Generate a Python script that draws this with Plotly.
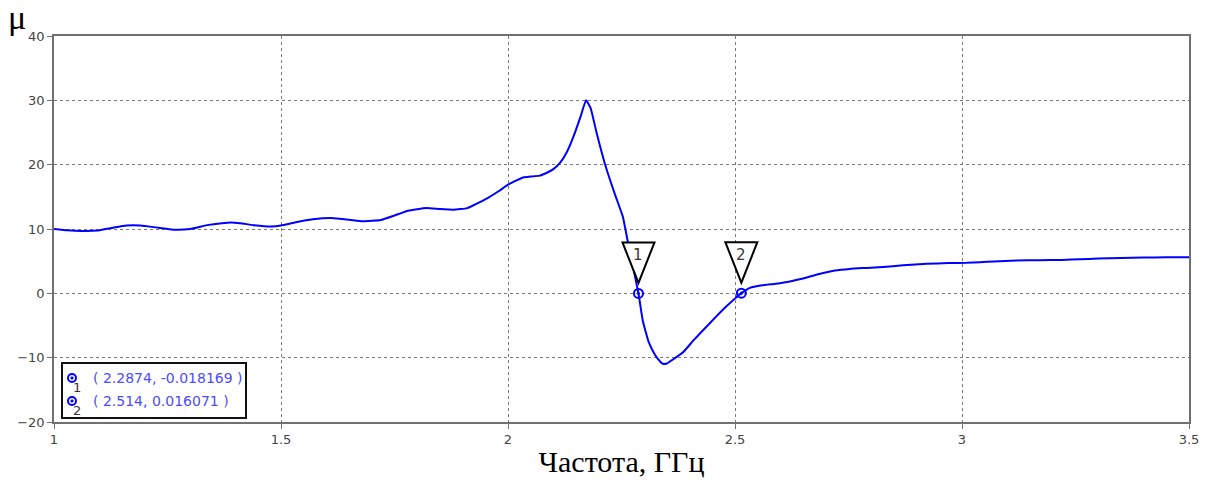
import plotly.graph_objects as go

# ---- data ----
freq = [1.00, 1.03, 1.06, 1.095, 1.13, 1.16, 1.19, 1.23, 1.262, 1.30, 1.337, 1.37, 1.39, 1.41,
        1.44, 1.48, 1.50, 1.53, 1.57, 1.61, 1.65, 1.68, 1.72, 1.75, 1.78, 1.82, 1.85, 1.88,
        1.91, 1.93, 1.955, 1.98, 2.00, 2.02, 2.035, 2.05, 2.07, 2.09, 2.10, 2.115, 2.13,
        2.145, 2.16, 2.172, 2.182, 2.195, 2.214, 2.235, 2.253, 2.264, 2.2874, 2.297, 2.31,
        2.324, 2.335, 2.341, 2.35, 2.363, 2.385, 2.41, 2.445, 2.48, 2.514, 2.533, 2.56,
        2.59, 2.621, 2.66, 2.694, 2.72, 2.753, 2.79, 2.826, 2.87, 2.923, 2.97, 3.01, 3.04,
        3.07, 3.12, 3.17, 3.22, 3.26, 3.30, 3.35, 3.40, 3.45, 3.50]
mu = [10.0, 9.8, 9.7, 9.75, 10.2, 10.55, 10.55, 10.2, 9.9, 10.0, 10.6, 10.9, 11.0, 10.9,
      10.6, 10.4, 10.55, 11.0, 11.5, 11.7, 11.45, 11.2, 11.4, 12.1, 12.85, 13.25, 13.1, 13.0,
      13.25, 13.9, 14.8, 15.9, 16.9, 17.6, 18.05, 18.15, 18.3, 18.9, 19.3, 20.3, 22.0,
      24.5, 27.5, 30.0, 28.8, 25.0, 20.0, 15.5, 11.9, 8.0, -0.018, -4.3, -7.6,
      -9.6, -10.6, -10.95, -10.9, -10.3, -9.2, -7.2, -4.6, -2.1, 0.016, 0.85, 1.25,
      1.5, 1.85, 2.5, 3.15, 3.55, 3.8, 3.95, 4.1, 4.35, 4.6, 4.7, 4.75, 4.85,
      4.95, 5.1, 5.15, 5.2, 5.3, 5.4, 5.5, 5.57, 5.6, 5.6]

marker_ids = ["1", "2"]
marker_x = [2.2874, 2.514]
marker_y = [-0.018169, 0.016071]

x_ticks = [1, 1.5, 2, 2.5, 3, 3.5]
x_tick_text = ["1", "1.5", "2", "2.5", "3", "3.5"]
y_ticks = [-20, -10, 0, 10, 20, 30, 40]

X_RANGE = [1, 3.5]
Y_RANGE = [-20, 40]

# ---- layout geometry ----
W, H = 1210, 490
ML, MR, MT, MB = 54, 21, 36, 68
plot_w = W - ML - MR
plot_h = H - MT - MB
px_per_x = plot_w / (X_RANGE[1] - X_RANGE[0])
px_per_y = plot_h / (Y_RANGE[1] - Y_RANGE[0])

BLUE = "#0000ff"
GRID = "#7a7a7a"
TICKC = "#444444"

fig = go.Figure()
fig.add_trace(go.Scatter(x=freq, y=mu, mode="lines", line_shape="spline",
                         line=dict(color=BLUE, width=2, smoothing=0.4),
                         hoverinfo="skip", showlegend=False))
fig.add_trace(go.Scatter(x=marker_x, y=marker_y, mode="markers",
                         marker=dict(symbol="circle-open-dot", size=9, color=BLUE,
                                     line=dict(width=2, color=BLUE)),
                         showlegend=False))

shapes = []
annotations = []
# marker triangles (computed from marker positions in pixel units)
for mid, mx, my in zip(marker_ids, marker_x, marker_y):
    apex_y = my + 10.5 / px_per_y
    top_y = my + 51 / px_per_y
    hw = 16 / px_per_x
    shapes.append(dict(type="path", xref="x", yref="y",
                       path=f"M {mx - hw} {top_y} L {mx + hw} {top_y} L {mx} {apex_y} Z",
                       fillcolor="white", line=dict(color="black", width=2), layer="above"))
    annotations.append(dict(x=mx, y=my + 38 / px_per_y, xref="x", yref="y", text=mid,
                            showarrow=False, font=dict(family="DejaVu Sans", size=15, color="#3a3530")))

# marker readout box (paper coordinates)
def px2paper_x(px):
    return (px - ML) / plot_w

def py2paper_y(py):
    return (H - MB - py) / plot_h

box_l, box_r, box_t, box_b = 62, 246, 363, 418
shapes.append(dict(type="rect", xref="paper", yref="paper",
                   x0=px2paper_x(box_l), x1=px2paper_x(box_r),
                   y0=py2paper_y(box_b), y1=py2paper_y(box_t),
                   fillcolor="white", line=dict(color="#111111", width=2), layer="between"))

row_py = [378, 401]
for mid, mx, my, rp in zip(marker_ids, marker_x, marker_y, row_py):
    annotations.append(dict(x=px2paper_x(91), y=py2paper_y(rp), xref="paper", yref="paper",
                            xanchor="left", yanchor="middle", showarrow=False,
                            text=f"( {mx:g}, {my:g} )",
                            font=dict(family="DejaVu Sans", size=14, color="#4b4bff")))
    annotations.append(dict(x=px2paper_x(77), y=py2paper_y(rp + 9), xref="paper", yref="paper",
                            xanchor="center", yanchor="middle", showarrow=False, text=mid,
                            font=dict(family="DejaVu Sans", size=13, color="#3a3530")))

legend_sym_x = [px2paper_x(72)] * 2
legend_sym_y = [py2paper_y(p) for p in row_py]
fig.add_trace(go.Scatter(x=legend_sym_x, y=legend_sym_y, xaxis="x2", yaxis="y2", mode="markers",
                         marker=dict(symbol="circle-open-dot", size=8, color=BLUE,
                                     line=dict(width=2, color=BLUE)),
                         showlegend=False, hoverinfo="skip", cliponaxis=False))

# mu label
annotations.append(dict(x=-ML / plot_w + 17 / plot_w, y=1 + 19 / plot_h, xref="paper", yref="paper",
                        text="μ", showarrow=False, xanchor="center", yanchor="middle",
                        font=dict(family="Liberation Serif", size=34, color="black")))

fig.update_layout(
    width=W, height=H,
    margin=dict(l=ML, r=MR, t=MT, b=MB),
    paper_bgcolor="white", plot_bgcolor="white",
    shapes=shapes, annotations=annotations,
    xaxis=dict(range=X_RANGE, tickvals=x_ticks, ticktext=x_tick_text,
               showgrid=True, gridcolor=GRID, griddash="dot", gridwidth=1.2,
               showline=True, linecolor="#707070", linewidth=1.5, mirror=True,
               ticks="outside", ticklen=5, tickcolor="#707070",
               tickfont=dict(family="DejaVu Sans", size=13, color=TICKC),
               zeroline=False,
               title=dict(text="Частота, ГГц", standoff=5,
                          font=dict(family="Liberation Serif", size=30, color="black"))),
    yaxis=dict(range=Y_RANGE, tickvals=y_ticks,
               showgrid=True, gridcolor=GRID, griddash="dot", gridwidth=1.2,
               showline=True, linecolor="#707070", linewidth=1.5, mirror=True,
               ticks="outside", ticklen=5, tickcolor="#707070",
               tickfont=dict(family="DejaVu Sans", size=13, color=TICKC),
               zeroline=False),
    xaxis2=dict(range=[0, 1], overlaying="x", visible=False, fixedrange=True),
    yaxis2=dict(range=[0, 1], overlaying="y", visible=False, fixedrange=True),
    showlegend=False,
)

fig.write_html("out.html")
